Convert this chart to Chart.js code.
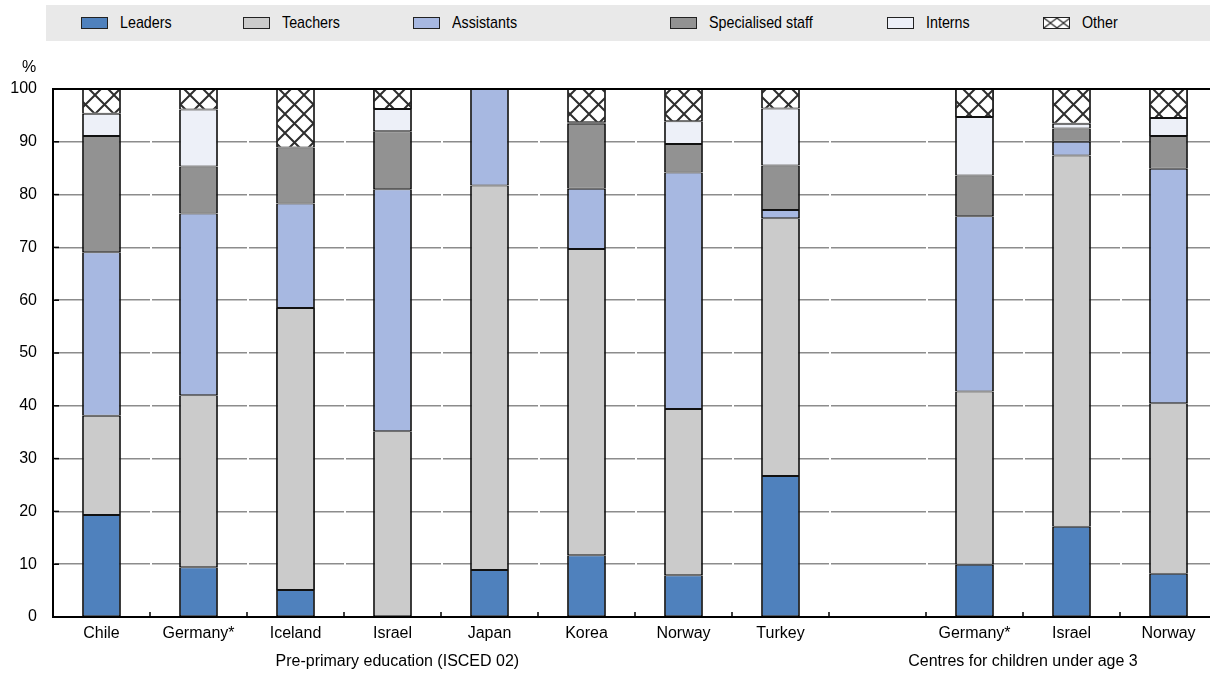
<!DOCTYPE html>
<html>
<head>
<meta charset="utf-8">
<script src="https://cdn.jsdelivr.net/npm/chart.js@4"></script>
<style>
  html, body { margin: 0; padding: 0; background: #fff; overflow: hidden; }
  body { width: 1210px; height: 673px; position: relative; font-family: "Liberation Sans", Arial, sans-serif; color: #000; }
  #legend { position: absolute; left: 46px; top: 5px; width: 1164px; height: 36px; background: #e9e9e9; }
  .item { position: absolute; top: 0; height: 36px; font-size: 17px; line-height: 36px; white-space: nowrap; }
  .swatch { position: absolute; left: 0; top: 12px; width: 25px; height: 10px; border: 1px solid #222; }
  .item span.txt { position: absolute; left: 39px; top: 0; transform: scaleX(0.84); transform-origin: left center; }
  #unit { position: absolute; left: 22px; top: 58px; font-size: 16px; }
  #wrap { position: absolute; left: 0; top: 0; width: 1217px; height: 673px; }
</style>
</head>
<body>
<div id="wrap"><canvas id="staffChart" width="1217" height="673"></canvas></div>
<div id="legend"></div>
<div id="unit">%</div>
<script>
// Categories (empty slot separates the two groups)
const categories = ['Chile', 'Germany*', 'Iceland', 'Israel', 'Japan', 'Korea', 'Norway', 'Turkey', '', 'Germany*', 'Israel', 'Norway'];

// Share of staff, %
const leaders     = [19.3,  9.4,  5.1,  0,    8.9, 11.7,  7.9, 26.7, null,  9.9, 17.1,  8.2];
const teachers    = [18.8, 32.6, 53.4, 35.2, 72.8, 58.0, 31.5, 48.8, null, 32.8, 70.3, 32.3];
const assistants  = [31.0, 34.4, 19.8, 45.8, 18.3, 11.4, 44.8,  1.6, null, 33.2,  2.6, 44.4];
const specialised = [22.0,  8.9, 10.6, 11.0,  0,   12.3,  5.4,  8.4, null,  7.7,  2.5,  6.2];
const interns     = [ 4.2, 10.8,  0,    4.2,  0,    0.3,  4.3, 10.8, null, 11.1,  0.9,  3.4];
const other       = [ 4.7,  3.9, 11.1,  3.8,  0,    6.3,  6.1,  3.7, null,  5.3,  6.6,  5.5];

const yTicks = [0, 10, 20, 30, 40, 50, 60, 70, 80, 90, 100];

// Group captions under the axis: label and slot position it is centred on
const groups = [
    { label: 'Pre-primary education (ISCED 02)', at: 3.05 },
    { label: 'Centres for children under age 3', at: 9.5 }
];

const FONT = '"Liberation Sans", Arial, sans-serif';

// Cross-hatch for "Other"
function makeHatch(size, width) {
    const c = document.createElement('canvas');
    c.width = size; c.height = size;
    const g = c.getContext('2d');
    g.fillStyle = '#fff';
    g.fillRect(0, 0, size, size);
    g.strokeStyle = '#2e2e2e';
    g.lineWidth = width;
    g.beginPath();
    g.moveTo(0, 0); g.lineTo(size, size);
    g.moveTo(size, 0); g.lineTo(0, size);
    g.stroke();
    return c;
}
const ctx = document.getElementById('staffChart').getContext('2d');
const hatch = ctx.createPattern(makeHatch(19, 2), 'repeat');

const series = [
    { name: 'Leaders', values: leaders, color: '#4f81bd' },
    { name: 'Teachers', values: teachers, color: '#cbcbcb' },
    { name: 'Assistants', values: assistants, color: '#a7b8e1' },
    { name: 'Specialised staff', values: specialised, color: '#929292' },
    { name: 'Interns', values: interns, color: '#edf0f8' },
    { name: 'Other', values: other, color: hatch }
];

const datasets = series.map(s => ({
    label: s.name,
    data: s.values.map(v => (v === 0 ? null : v)),
    backgroundColor: s.color,
    borderColor: '#111',
    // thin top/bottom so stacked edges don't double up
    borderWidth: { top: 1, bottom: 1, left: 1.8, right: 1.8 },
    borderSkipped: false,
    barPercentage: 0.4,
    categoryPercentage: 1.0
}));

// Extra axis decoration: top frame, inward ticks, group captions
const extras = {
    id: 'extras',
    afterDraw(chart) {
        const c = chart.ctx;
        const a = chart.chartArea;
        const x = chart.scales.x;
        const y = chart.scales.y;
        const slot = x.getPixelForValue(1) - x.getPixelForValue(0);
        c.save();
        c.strokeStyle = '#000';
        c.lineWidth = 2;
        c.beginPath();
        c.moveTo(a.left, a.top);
        c.lineTo(a.right, a.top);
        c.stroke();

        c.lineWidth = 1.5;
        yTicks.forEach(v => {
            const py = y.getPixelForValue(v);
            c.beginPath();
            c.moveTo(a.left, py);
            c.lineTo(a.left + 6, py);
            c.stroke();
        });
        for (let i = 1; i < categories.length; i++) {
            const px = x.getPixelForValue(i) - slot / 2;
            c.beginPath();
            c.moveTo(px, a.bottom);
            c.lineTo(px, a.bottom - 5);
            c.stroke();
        }

        c.fillStyle = '#000';
        c.font = '16px ' + FONT;
        c.textAlign = 'center';
        c.textBaseline = 'middle';
        groups.forEach(g => {
            const px = x.getPixelForValue(0) + g.at * slot;
            c.fillText(g.label, px, a.bottom + 45);
        });
        c.restore();
    }
};

const staffChart = new Chart(ctx, {
    type: 'bar',
    data: { labels: categories, datasets: datasets },
    options: {
        responsive: false,
        animation: false,
        layout: { padding: { top: 89, left: 0, right: 0, bottom: 0 } },
        plugins: {
            legend: { display: false },
            tooltip: { enabled: false }
        },
        scales: {
            x: {
                stacked: true,
                grid: { display: false, drawTicks: false },
                border: { color: '#000', width: 2, z: 1 },
                ticks: {
                    color: '#000',
                    padding: 7,
                    maxRotation: 0,
                    autoSkip: false,
                    font: { family: FONT, size: 16 }
                },
                afterFit: scale => { scale.height = 56; }
            },
            y: {
                stacked: true,
                min: 0,
                max: 100,
                afterBuildTicks: scale => { scale.ticks = yTicks.map(v => ({ value: v })); },
                grid: { color: '#8c8c8c', lineWidth: 1.5, drawTicks: false },
                border: { color: '#000', width: 2, z: 1, dash: [95, 2], dashOffset: 96 },
                ticks: {
                    color: '#000',
                    padding: 16,
                    font: { family: FONT, size: 16 }
                },
                afterFit: scale => { scale.width = 53; }
            }
        }
    },
    plugins: [extras]
});

// Legend band built from the series list
const legendLeft = [81, 243, 413, 670, 887, 1043];
const legendEl = document.getElementById('legend');
const smallHatch = makeHatch(12, 1.4).toDataURL();
series.forEach((s, i) => {
    const item = document.createElement('div');
    item.className = 'item';
    item.style.left = (legendLeft[i] - 46) + 'px';
    const sw = document.createElement('div');
    sw.className = 'swatch';
    if (s.name === 'Other') {
        sw.style.backgroundImage = 'url(' + smallHatch + ')';
        sw.style.backgroundSize = '13px 10px';
    } else {
        sw.style.background = s.color;
    }
    const txt = document.createElement('span');
    txt.className = 'txt';
    txt.textContent = s.name;
    item.appendChild(sw);
    item.appendChild(txt);
    legendEl.appendChild(item);
});
</script>
</body>
</html>
